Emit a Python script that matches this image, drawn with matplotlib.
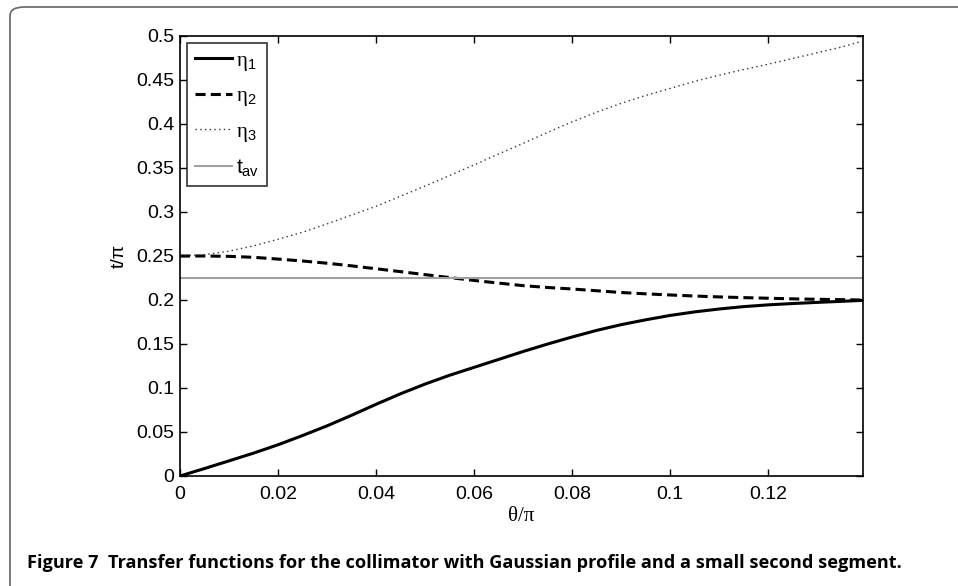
import matplotlib
matplotlib.use('Agg')
import matplotlib.pyplot as plt
from matplotlib.patches import FancyBboxPatch

# theta/pi sample points
theta = [0.0, 0.005, 0.01, 0.015, 0.02, 0.025, 0.03, 0.035, 0.04, 0.045,
         0.05, 0.055, 0.06, 0.065, 0.07, 0.075, 0.08, 0.085, 0.09, 0.095,
         0.10, 0.105, 0.11, 0.115, 0.12, 0.125, 0.13, 0.135, 0.139]

eta1 = [0.0, 0.0085, 0.0172, 0.026, 0.0355, 0.046, 0.057, 0.069, 0.0815, 0.0935,
        0.1045, 0.1145, 0.1235, 0.1325, 0.1415, 0.150, 0.158, 0.1655, 0.172, 0.1775,
        0.1825, 0.1865, 0.1898, 0.1925, 0.1945, 0.196, 0.1973, 0.1985, 0.1995]

eta2 = [0.25, 0.25, 0.2496, 0.2485, 0.2465, 0.2443, 0.2418, 0.2388, 0.2355, 0.2322,
        0.2288, 0.2255, 0.2222, 0.2192, 0.2163, 0.2142, 0.2125, 0.2105, 0.2085, 0.207,
        0.2057, 0.2045, 0.2035, 0.2027, 0.202, 0.2013, 0.2008, 0.2004, 0.2]

eta3 = [0.25, 0.2515, 0.2555, 0.2615, 0.269, 0.277, 0.2865, 0.2965, 0.3065, 0.318,
        0.3295, 0.3415, 0.3535, 0.366, 0.378, 0.3905, 0.4025, 0.4135, 0.4235, 0.4325,
        0.4405, 0.4485, 0.4555, 0.462, 0.468, 0.4745, 0.481, 0.4875, 0.494]

t_av = 0.225

xticks = [0, 0.02, 0.04, 0.06, 0.08, 0.1, 0.12]
xticklabels = ['0', '0.02', '0.04', '0.06', '0.08', '0.1', '0.12']
yticks = [0, 0.05, 0.1, 0.15, 0.2, 0.25, 0.3, 0.35, 0.4, 0.45, 0.5]
yticklabels = ['0', '0.05', '0.1', '0.15', '0.2', '0.25', '0.3', '0.35', '0.4', '0.45', '0.5']

caption = 'Figure 7  Transfer functions for the collimator with Gaussian profile and a small second segment.'

plt.rcParams['font.family'] = ['Liberation Sans', 'DejaVu Sans']
plt.rcParams['mathtext.fontset'] = 'custom'
plt.rcParams['mathtext.rm'] = 'Liberation Sans'
plt.rcParams['mathtext.it'] = 'Liberation Sans'
plt.rcParams['mathtext.sf'] = 'Liberation Serif'

W, H = 958, 586
fig = plt.figure(figsize=(W / 100, H / 100), dpi=100)

# page frame with rounded corner (right/bottom edges run off the canvas)
frame = FancyBboxPatch((10 / W, -20 / H), 1.2, (H - 7 + 20) / H,
                       boxstyle='round,pad=0,rounding_size=0.015',
                       transform=fig.transFigure, facecolor='none',
                       edgecolor='#707070', linewidth=1.3)
fig.patches.append(frame)

ax = fig.add_axes([180 / W, (H - 476) / H, 683 / W, 440 / H])

ax.plot(theta, eta1, color='black', linewidth=2.2, label=r'$\mathsf{\eta}_1$')
ax.plot(theta, eta2, color='black', linewidth=2.2, linestyle=(0, (3.3, 1.7)),
        label=r'$\mathsf{\eta}_2$')
ax.plot(theta, eta3, color='#333333', linewidth=1.0, linestyle=(0, (1, 2.4)),
        label=r'$\mathsf{\eta}_3$')
ax.plot([theta[0], theta[-1]], [t_av, t_av], color='#a0a0a0', linewidth=1.5,
        label=r'$t_{av}$')

ax.set_xlim(0, 0.1393)
ax.set_ylim(0, 0.5)
ax.set_xticks(xticks)
ax.set_xticklabels(xticklabels)
ax.set_yticks(yticks)
ax.set_yticklabels(yticklabels)
ax.tick_params(direction='in', length=5, width=1, top=True, right=True,
               labelsize=14)
ax.tick_params(axis='x', pad=7)
ax.tick_params(axis='y', pad=4)
for s in ax.spines.values():
    s.set_linewidth(1.2)

ax.set_xlabel('θ/π', fontsize=15, labelpad=3, family=['Liberation Serif'])
ax.set_ylabel('t/π', fontsize=14, labelpad=6)

leg = ax.legend(loc='upper left', fontsize=15, handlelength=1.8, handletextpad=0.2,
                borderpad=0.35, labelspacing=0.65, fancybox=False,
                borderaxespad=0.35)
leg.get_frame().set_edgecolor('black')
leg.get_frame().set_linewidth(1.2)

fig.text(27 / W, (H - 563) / H, caption, fontsize=13.1, fontweight='bold',
         family=['Open Sans', 'DejaVu Sans'], va='center', ha='left')

fig.savefig('out.png', dpi=100)
